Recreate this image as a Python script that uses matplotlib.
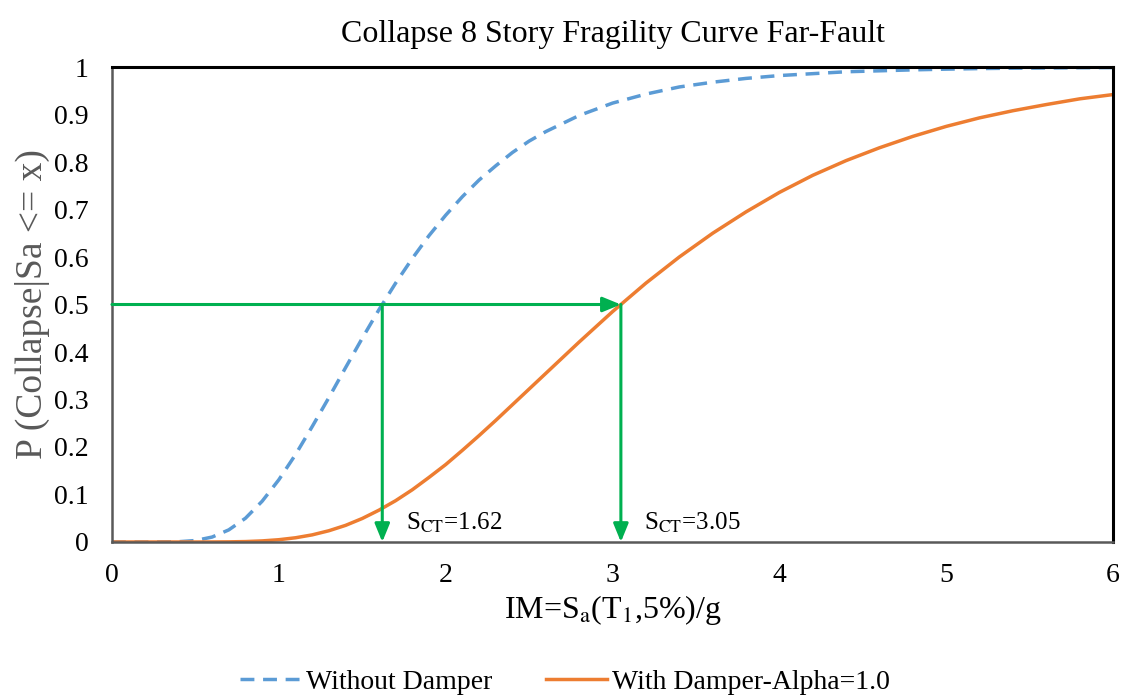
import matplotlib
matplotlib.use("Agg")
import matplotlib.pyplot as plt

plt.rcParams["font.family"] = ["Liberation Serif", "DejaVu Serif"]
plt.rcParams["mathtext.fontset"] = "stix"

# IM values (Sa/g) and probabilities
im = [0.0, 0.2, 0.4, 0.5, 0.6, 0.7, 0.8, 0.9, 1.0, 1.1, 1.2, 1.3, 1.4, 1.5, 1.6,
      1.7, 1.8, 1.9, 2.0, 2.1, 2.2, 2.3, 2.4, 2.5, 2.6, 2.8,
      3.0, 3.2, 3.4, 3.6, 3.8, 4.0, 4.2, 4.4, 4.6, 4.8, 5.0, 5.2, 5.4, 5.6, 5.8, 6.0]
p_no_damper = [0.0, 0.0, 0.0006, 0.0031, 0.0104, 0.0255, 0.050, 0.0858, 0.131,
               0.184, 0.243, 0.304, 0.367, 0.429, 0.489, 0.545, 0.597, 0.645,
               0.688, 0.727, 0.762, 0.792, 0.820, 0.844, 0.864, 0.898,
               0.924, 0.943, 0.958, 0.968, 0.976, 0.982, 0.986, 0.990, 0.992,
               0.994, 0.9955, 0.9967, 0.9975, 0.998, 0.9985, 0.9988]
p_damper = [0.0, 0.0, 0.0, 0.0, 0.0001, 0.0003, 0.0009, 0.0023, 0.0048, 0.0089,
            0.015, 0.0237, 0.035, 0.0495, 0.067, 0.087, 0.110, 0.136, 0.163,
            0.193, 0.224, 0.256, 0.289, 0.322, 0.355, 0.421,
            0.485, 0.545, 0.600, 0.650, 0.695, 0.736, 0.772, 0.803, 0.830,
            0.854, 0.875, 0.893, 0.908, 0.921, 0.933, 0.942]

s_ct = [1.62, 3.05]
s_ct_labels = ["1.62", "3.05"]

GREEN = "#00B050"

fig = plt.figure(figsize=(11.23, 6.98), dpi=100)
ax = fig.add_axes([0.0997, 0.2235, 0.8915, 0.6805])

ax.plot(im, p_no_damper, color="#5B9BD5", linewidth=2.5, linestyle=(0, (4, 2.5)),
        label="Without Damper")
ax.plot(im, p_damper, color="#ED7D31", linewidth=2.5, label="With Damper-Alpha=1.0")

# median arrows
arrow = dict(arrowstyle="-|>,head_width=0.45,head_length=1.1", color=GREEN, lw=2.2,
             shrinkA=0, shrinkB=0)
ax.annotate("", xy=(s_ct[1], 0.5), xytext=(0, 0.5), arrowprops=arrow)
for x, lab in zip(s_ct, s_ct_labels):
    ax.annotate("", xy=(x, 0.0), xytext=(x, 0.5), arrowprops=arrow)
    ax.text(x + 0.14, 0.015, r"S$_{\mathrm{CT}}$=" + lab, fontsize=18,
            ha="left", va="bottom")

ax.set_xlim(0, 6)
ax.set_ylim(0, 1)
ax.set_xticks(range(7))
ax.set_yticks([i / 10 for i in range(11)])
ax.set_yticklabels(["0"] + [f"0.{i}" for i in range(1, 10)] + ["1"])
ax.tick_params(length=0, labelsize=20)
ax.tick_params(axis="y", pad=17)
ax.tick_params(axis="x", pad=15)

for s in ("top", "right"):
    ax.spines[s].set_color("black")
    ax.spines[s].set_linewidth(2.2)
for s in ("left", "bottom"):
    ax.spines[s].set_color("#595959")
    ax.spines[s].set_linewidth(1.8)

ax.set_title("Collapse 8 Story Fragility Curve Far-Fault", fontsize=23, pad=18)
ax.set_xlabel(r"IM=S$_{\mathrm{a}}$(T$_{1}$,5%)/g", fontsize=23, labelpad=4)
ax.set_ylabel("P (Collapse|Sa <= x)", fontsize=27, color="#595959", labelpad=3)

ax.legend(loc="center", bbox_to_anchor=(0.4525, -0.295), ncol=2, frameon=False,
          fontsize=20, handlelength=2.2, columnspacing=1.9, handletextpad=0.2)

fig.savefig("out.png", dpi=100)
